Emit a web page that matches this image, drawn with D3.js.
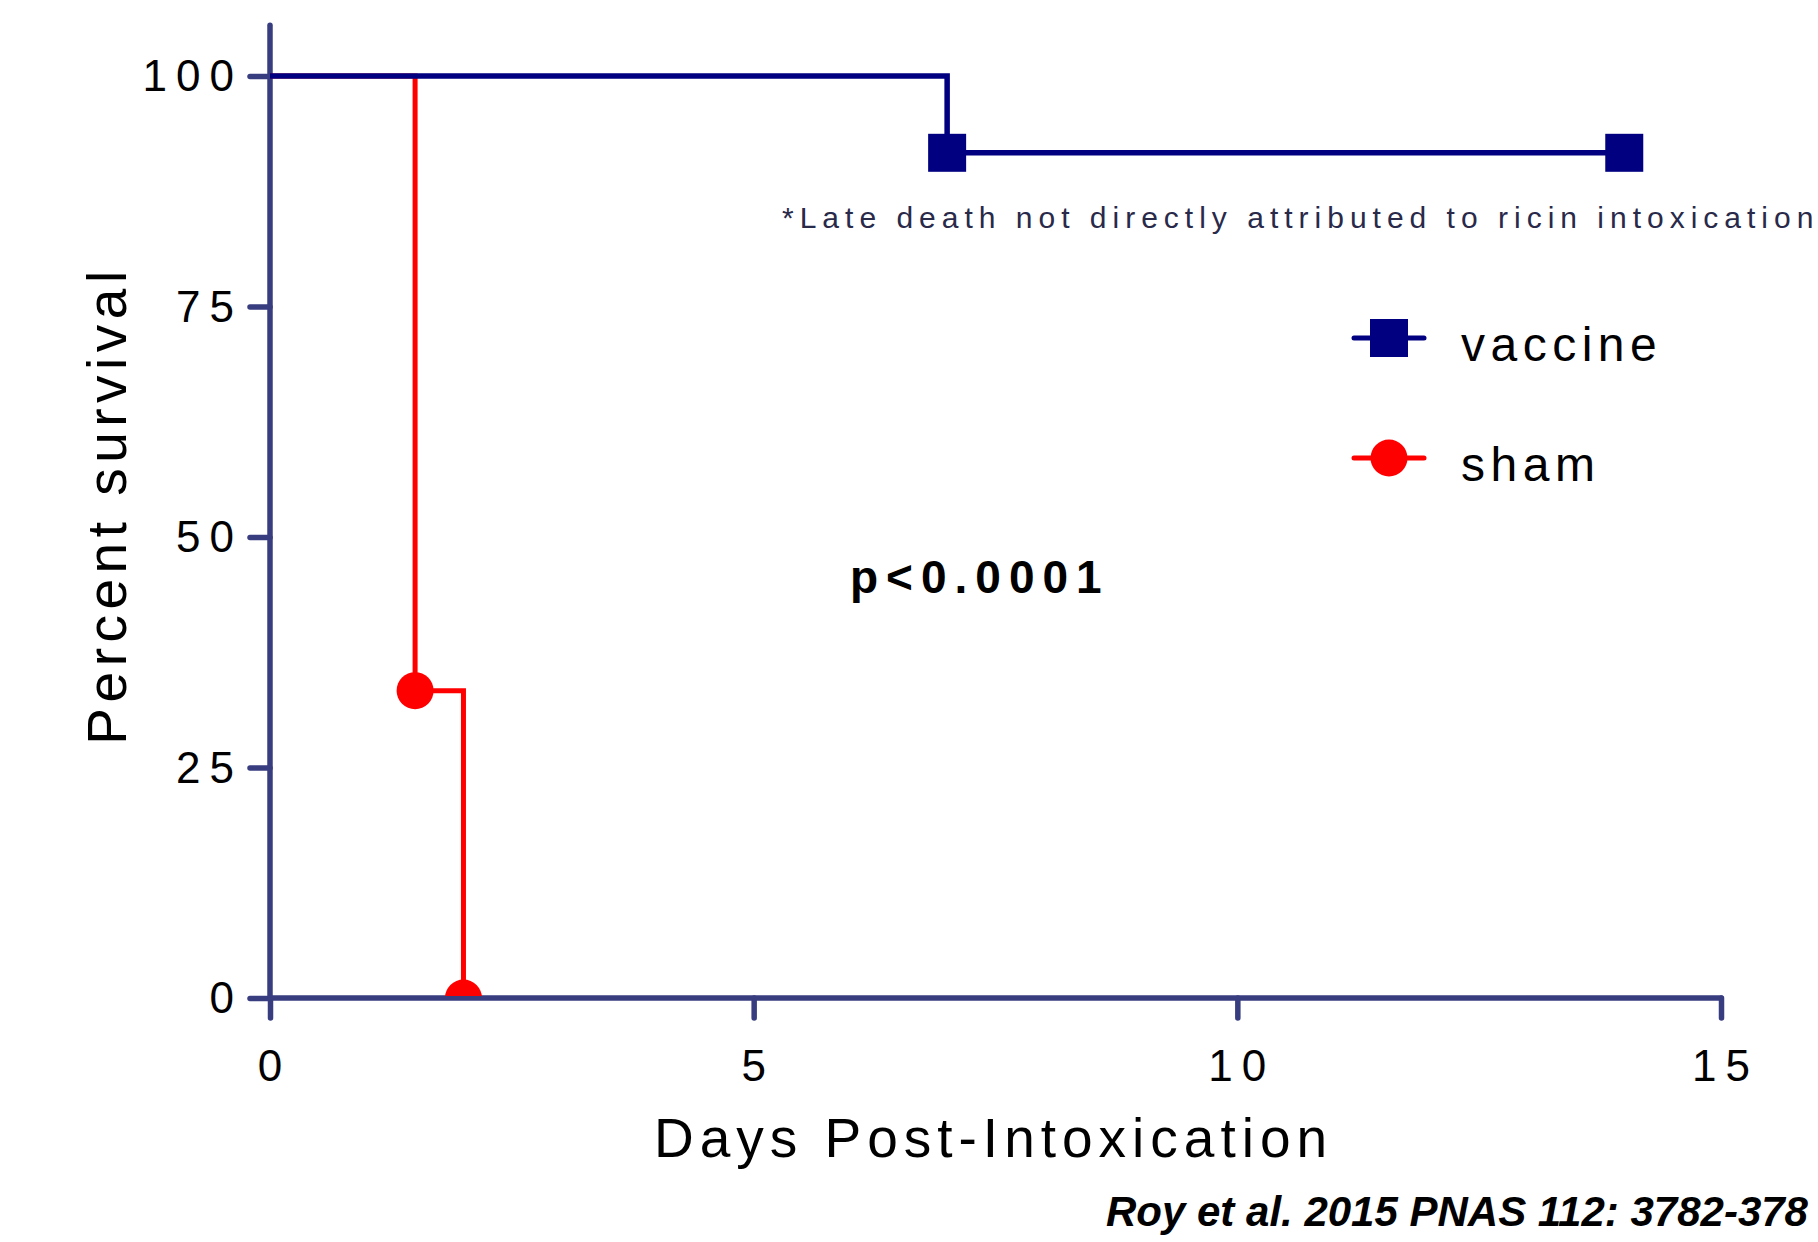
<!DOCTYPE html>
<html>
<head>
<meta charset="utf-8">
<script src="https://cdn.jsdelivr.net/npm/d3@7/dist/d3.min.js"></script>
<style>
  html, body { margin: 0; padding: 0; background: #fff; }
  svg text { font-family: "Liberation Sans", Arial, Helvetica, sans-serif; }
</style>
</head>
<body>
<div id="chart"></div>
<script>
// survival data (Kaplan-Meier steps)
var vaccineDays = [0, 7, 14];
var vaccineSurvival = [100, 91.67, 91.67];
var vaccineMarks = [1, 2];          // indices of points that get a marker

var shamDays = [0, 1.5, 2];
var shamSurvival = [100, 33.33, 0];
var shamMarks = [1, 2];

var xTicks = [0, 5, 10, 15];
var yTicks = [0, 25, 50, 75, 100];

var legendNames = ['vaccine', 'sham'];

var W = 1818, H = 1242;
var axisColor = '#383d80',
    vaccineColor = '#000080',
    shamColor = '#ff0000';

var svg = d3.select('#chart').append('svg')
    .attr('width', W)
    .attr('height', H);

var x = d3.scaleLinear().domain([0, 15]).range([270, 1721]);
var y = d3.scaleLinear().domain([0, 100]).range([998, 76]);

// clip so the marker sitting on 0 is cut by the x axis
svg.append('clipPath').attr('id', 'plotClip')
    .append('rect')
    .attr('x', x(0)).attr('y', 0)
    .attr('width', x(15) - x(0) + 40)
    .attr('height', y(0) - 2);

// axes
//- - - - - - - - - - - - - - - - - - - - - -
var yAxis = svg.append('g')
    .attr('transform', 'translate(' + x(0) + ',0)')
    .call(d3.axisLeft(y).tickValues(yTicks).tickSize(20).tickPadding(7)
        .tickFormat(d3.format('d')));

var xAxis = svg.append('g')
    .attr('transform', 'translate(0,' + y(0) + ')')
    .call(d3.axisBottom(x).tickValues(xTicks).tickSize(20).tickPadding(32)
        .tickFormat(d3.format('d')));

[yAxis, xAxis].forEach(function(g) {
    g.select('.domain').remove();
    g.selectAll('.tick line')
        .attr('stroke', axisColor)
        .attr('stroke-width', 5.5)
        .attr('stroke-linecap', 'round');
    g.selectAll('.tick text')
        .attr('fill', '#000')
        .style('font-size', '44px')
        .style('letter-spacing', '9px')
        .style('font-family', '"Liberation Sans", Arial, sans-serif');
});
yAxis.selectAll('.tick text').attr('x', -27).attr('dy', '0.33em');
xAxis.selectAll('.tick text').attr('dx', '4px');

// axis lines
svg.append('line')
    .attr('x1', x(0)).attr('x2', x(0))
    .attr('y1', y(105.5)).attr('y2', y(0))
    .attr('stroke', axisColor).attr('stroke-width', 5.5)
    .attr('stroke-linecap', 'round');
svg.append('line')
    .attr('x1', x(0)).attr('x2', x(15))
    .attr('y1', y(0)).attr('y2', y(0))
    .attr('stroke', axisColor).attr('stroke-width', 5.5)
    .attr('stroke-linecap', 'round');

// axis titles
svg.append('text')
    .attr('transform', 'translate(126,' + 505 + ') rotate(-90)')
    .attr('text-anchor', 'middle')
    .style('font-size', '55px')
    .style('letter-spacing', '5.5px')
    .text('Percent survival');

svg.append('text')
    .attr('x', (x(0) + x(15)) / 2 - 2)
    .attr('y', 1157)
    .attr('text-anchor', 'middle')
    .style('font-size', '55px')
    .style('letter-spacing', '6px')
    .text('Days Post-Intoxication');

// step lines
//- - - - - - - - - - - - - - - - - - - - - -
var stepLine = d3.line()
    .x(function(d) { return x(d[0]); })
    .y(function(d) { return y(d[1]); })
    .curve(d3.curveStepAfter);

var shamPts = d3.zip(shamDays, shamSurvival);
var vaccinePts = d3.zip(vaccineDays, vaccineSurvival);

var plot = svg.append('g').attr('clip-path', 'url(#plotClip)');

plot.append('path')
    .datum(shamPts)
    .attr('d', stepLine)
    .attr('fill', 'none')
    .attr('stroke', shamColor)
    .attr('stroke-width', 5);

plot.selectAll('circle.sham')
    .data(shamMarks.map(function(i) { return shamPts[i]; }))
    .enter().append('circle')
    .attr('class', 'sham')
    .attr('cx', function(d) { return x(d[0]); })
    .attr('cy', function(d) { return y(d[1]); })
    .attr('r', 18.5)
    .attr('fill', shamColor);

plot.append('path')
    .datum(vaccinePts)
    .attr('d', stepLine)
    .attr('fill', 'none')
    .attr('stroke', vaccineColor)
    .attr('stroke-width', 5.5);

var sq = 38;
plot.selectAll('rect.vaccine')
    .data(vaccineMarks.map(function(i) { return vaccinePts[i]; }))
    .enter().append('rect')
    .attr('class', 'vaccine')
    .attr('x', function(d) { return x(d[0]) - sq / 2; })
    .attr('y', function(d) { return y(d[1]) - sq / 2; })
    .attr('width', sq).attr('height', sq)
    .attr('fill', vaccineColor);

// annotations
//- - - - - - - - - - - - - - - - - - - - - -
svg.append('text')
    .attr('x', 782).attr('y', 228)
    .attr('fill', '#29294a')
    .style('font-size', '30px')
    .style('letter-spacing', '6px')
    .text('*Late death not directly attributed to ricin intoxication');

svg.append('text')
    .attr('x', 850).attr('y', 593)
    .style('font-size', '46px')
    .style('font-weight', 'bold')
    .style('letter-spacing', '8px')
    .text('p<0.0001');

svg.append('text')
    .attr('x', 1106).attr('y', 1226)
    .style('font-size', '42px')
    .style('font-weight', 'bold')
    .style('font-style', 'italic')
    .text('Roy et al. 2015 PNAS 112: 3782-378');

// legend
//- - - - - - - - - - - - - - - - - - - - - -
var legend = svg.append('g');
var legendRows = legend.selectAll('g')
    .data(legendNames)
    .enter().append('g')
    .attr('transform', function(d, i) { return 'translate(1389,' + (338 + i * 120) + ')'; });

legendRows.append('line')
    .attr('x1', -35).attr('x2', 35)
    .attr('stroke', function(d, i) { return i === 0 ? vaccineColor : shamColor; })
    .attr('stroke-width', 5)
    .attr('stroke-linecap', 'round');

legendRows.each(function(d, i) {
    var g = d3.select(this);
    if (i === 0) {
        g.append('rect')
            .attr('x', -sq / 2).attr('y', -sq / 2)
            .attr('width', sq).attr('height', sq)
            .attr('fill', vaccineColor);
    } else {
        g.append('circle').attr('r', 18.5).attr('fill', shamColor);
    }
});

legendRows.append('text')
    .attr('x', 72).attr('y', 23)
    .style('font-size', '48px')
    .style('letter-spacing', '5.5px')
    .text(function(d) { return d; });
</script>
</body>
</html>
